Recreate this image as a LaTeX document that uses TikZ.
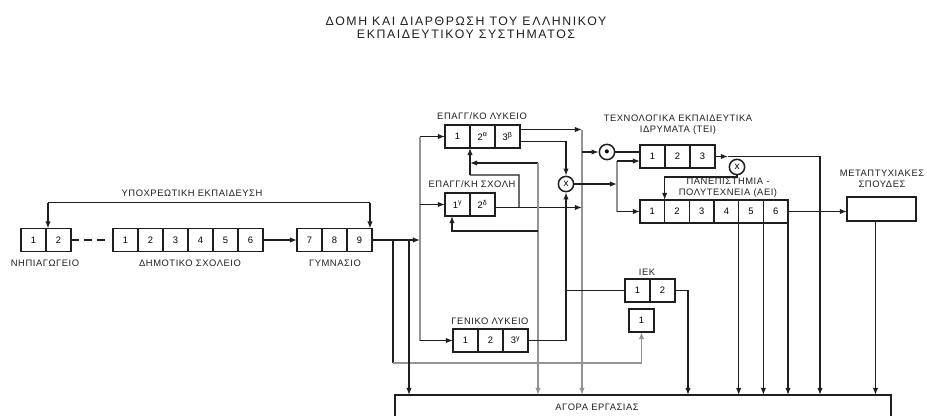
\documentclass[tikz,border=0pt]{standalone}
\usepackage{fontspec}
\setmainfont{Liberation Sans}[LetterSpace=6]
\newfontfamily\titlefont{Liberation Sans}[LetterSpace=13]
\usetikzlibrary{arrows.meta,calc}
\definecolor{ink}{gray}{0.12}
\definecolor{greyline}{gray}{0.58}

\begin{document}
\begin{tikzpicture}
[x=0.03cm,y=-0.03cm,
cell/.style={rectangle, draw=ink, line width=1pt,
minimum width=0.75cm, minimum height=0.69cm,
inner sep=0pt, outer sep=0pt, font=\fontsize{8}{9}\selectfont},
box/.style={rectangle, draw=ink, line width=1pt,
inner sep=0pt, outer sep=0pt},
lbl/.style={inner sep=0pt, align=center, text=ink,
font=\fontsize{8}{9.4}\selectfont},
joint/.style={circle, draw=ink, line width=1.3pt, minimum size=0.46cm,
inner sep=0pt, font=\fontsize{8.5}{8.5}\selectfont},
line/.style={draw=ink, line width=1pt, -{Latex[length=6pt,width=4.5pt]}},
link/.style={draw=ink, line width=1pt},
faint/.style={draw=greyline}]
\clip (0,0) rectangle (927,415);
% title
\node[lbl, font={\titlefont\fontsize{10.5}{11}\selectfont}] (title) at (466,28)
{ΔΟΜΗ ΚΑΙ ΔΙΑΡΘΡΩΣΗ ΤΟΥ ΕΛΛΗΝΙΚΟΥ\\ΕΚΠΑΙΔΕΥΤΙΚΟΥ ΣΥΣΤΗΜΑΤΟΣ};
% row of compulsory schools
\foreach \i in {1,2}
  \node[cell] (nip-\i) at ({8.5+25*\i},240) {\i};
\foreach \i in {1,...,6}
  \node[cell] (dim-\i) at ({100.5+25*\i},240) {\i};
\foreach \t [count=\i] in {7,8,9}
  \node[cell] (gym-\i) at ({284.5+25*\i},240) {\t};
\node[lbl] (nip-lbl) at (45,263) {ΝΗΠΙΑΓΩΓΕΙΟ};
\node[lbl] (dim-lbl) at (190,263) {ΔΗΜΟΤΙΚΟ ΣΧΟΛΕΙΟ};
\node[lbl] (gym-lbl) at (335,263) {ΓΥΜΝΑΣΙΟ};
\node[lbl] (yp-lbl) at (192,193) {ΥΠΟΧΡΕΩΤΙΚΗ ΕΚΠΑΙΔΕΥΣΗ};
% upper secondary
\foreach \t [count=\i] in {1,{2\textsuperscript{α}},{3\textsuperscript{β}}}
  \node[cell] (ekl-\i) at ({432.5+25*\i},136.5) {\t};
\foreach \t [count=\i] in {{1\textsuperscript{γ}},{2\textsuperscript{δ}}}
  \node[cell] (esx-\i) at ({432.5+25*\i},204.5) {\t};
\foreach \t [count=\i] in {1,2,{3\textsuperscript{γ}}}
  \node[cell] (gen-\i) at ({440.5+25*\i},340.5) {\t};
\node[lbl] (ekl-lbl) at (482,116) {ΕΠΑΓΓ/ΚΟ ΛΥΚΕΙΟ};
\node[lbl] (esx-lbl) at (472,184) {ΕΠΑΓΓ/ΚΗ ΣΧΟΛΗ};
\node[lbl] (gen-lbl) at (490,321) {ΓΕΝΙΚΟ ΛΥΚΕΙΟ};
% IEK
\foreach \i in {1,2}
  \node[cell] (iek-\i) at ({612.5+25*\i},290.5) {\i};
\node[cell] (iek-b) at (641.5,320.5) {1};
\node[lbl] (iek-lbl) at (647,272) {ΙΕΚ};
% higher education
\foreach \i in {1,2,3}
  \node[cell] (tei-\i) at ({627.5+25*\i},156.5) {\i};
\foreach \i in {1,...,6}
  \node[cell, minimum width=0.74cm] (aei-\i) at ({627.67+24.67*\i},211.5) {\i};
\node[box, minimum width=2.07cm, minimum height=0.72cm] (meta) at (881.5,209) {};
\node[lbl] (tei-lbl) at (678,125) {ΤΕΧΝΟΛΟΓΙΚΑ ΕΚΠΑΙΔΕΥΤΙΚΑ\\ΙΔΡΥΜΑΤΑ (ΤΕΙ)};
\node[lbl] (aei-lbl) at (728,188) {ΠΑΝΕΠΙΣΤΗΜΙΑ -\\ΠΟΛΥΤΕΧΝΕΙΑ (ΑΕΙ)};
\node[lbl] (meta-lbl) at (882,179) {ΜΕΤΑΠΤΥΧΙΑΚΕΣ\\ΣΠΟΥΔΕΣ};
% joints
\node[joint] (x1) at (566,184) {x};
\node[joint] (x2) at (737,167) {x};
\node[joint, font=\fontsize{8}{8}\selectfont] (dot1) at (607,152) {●};
% labour market
\node[box, anchor=north west, minimum width=14.88cm, minimum height=1.5cm] (agora) at (395,395) {};
\node[lbl] (agora-lbl) at (597,407) {ΑΓΟΡΑ ΕΡΓΑΣΙΑΣ};

% compulsory education
\coordinate (yp-l) at ($(nip-1.north east)+(2,-26)$);
\coordinate (yp-r) at ($(gym-3.north east)+(-2,-26)$);
\draw[link] (yp-l) -- (yp-r);
\draw[line] (yp-l) -- (yp-l |- nip-1.north);
\draw[line] (yp-r) -- (yp-r |- gym-3.north);
\draw[link, dash pattern=on 7pt off 4pt, shorten >=4pt] (nip-2) -- (dim-1);
\draw[line] (dim-6) -- (gym-1);

% out of gymnasio
\coordinate (spine) at (420,240);
\draw[line] (gym-3) -- (spine);
\draw[link, faint] (spine |- ekl-1) -- (spine |- gen-1);
\draw[line] (spine |- ekl-1) -- (ekl-1);
\draw[line] (spine |- esx-1) -- (esx-1);
\draw[line] (spine |- gen-1) -- (gen-1);
\coordinate (drop-a) at (393,240);
\coordinate (drop-b) at (409,240);
\coordinate (low) at (393,363);
\draw[link] (drop-a) -- (low);
\draw[line, faint] (low) -| (iek-b);
\draw[line] (drop-b) -- (drop-b |- agora.north);

% out of epagg. lykeio
\coordinate (ekl-up) at ($(ekl-3.east)+(0,-7)$);
\coordinate (ekl-dn) at ($(ekl-3.east)+(0,5)$);
\coordinate (rail) at (582,129);
\draw[line] (ekl-up) -- (ekl-up -| rail);
\draw[line, faint] (rail |- ekl-up) -- (rail |- agora.north);
\draw[line] (ekl-dn) -| (x1);
\draw[line] (rail |- dot1) -- (dot1);
\draw[link] (dot1) -- (dot1 -| tei-1.west);
\coordinate (fork) at (617,161);
\draw[line] (x1) -- (x1 -| fork);
\draw[link, faint] (fork) -- (fork |- aei-1);
\draw[line] (fork) -- (fork -| tei-1.west);
\draw[line] (fork |- aei-1) -- (aei-1);

% out of epagg. scholi
\coordinate (esx-out) at ($(esx-2.east)+(0,3)$);
\draw[line] (esx-out) -- (esx-out -| rail);
\coordinate (lift) at ($(ekl-1.south east)+(0,27)$);
\coordinate (hook) at (519,175);
\draw[link] (hook |- esx-out) -- (hook) -- (lift);
\draw[line] (lift) -- (ekl-1.south east);

% back line
\coordinate (back) at (538,163);
\coordinate (back-esx) at (538,231);
\coordinate (esx-in) at ($(esx-1.south west)+(7,0)$);
\draw[line] (back) -- (back -| lift);
\draw[line, faint] (back) -- (back |- agora.north);
\draw[line] (back-esx) -| (esx-in);

% out of geniko lykeio
\draw[link] (gen-3) -- (gen-3 -| x1);
\draw[line] (gen-3 -| x1) -- (x1);
\draw[link] (iek-1 -| x1) -- (iek-1);

% IEK
\coordinate (iek-rt) at (688,290);
\draw[line] (iek-2) -- (iek-2 -| iek-rt) -- (iek-rt |- agora.north);

% TEI
\coordinate (tei-tip) at (728,156);
\coordinate (tei-rt) at (820,156);
\draw[line] (tei-3) -- (tei-3 -| tei-tip);
\draw[line] (tei-3 -| tei-tip) -- (tei-3 -| tei-rt) -- (tei-rt |- agora.north);
\draw[line] (x2) |- ($(aei-1.north east)+(0,-23)$) -- (aei-1.north east);

% AEI
\draw[line] (aei-6) -- (aei-6 -| meta.west);
\foreach \i in {4,5,6}
  \draw[line] (aei-\i.south east) -- (aei-\i.south east |- agora.north);
\coordinate (meta-out) at ($(meta.south)+(-6,0)$);
\draw[line] (meta-out) -- (meta-out |- agora.north);
\end{tikzpicture}
\end{document}
